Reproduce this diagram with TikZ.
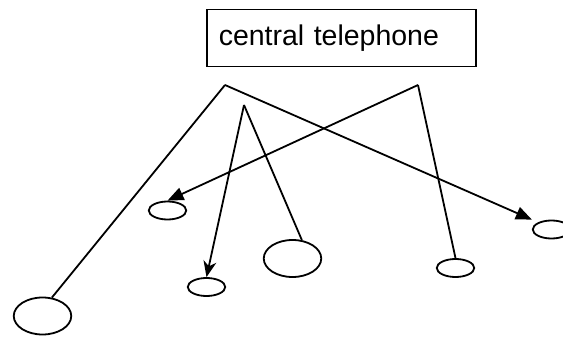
\documentclass[tikz,border=0pt]{standalone}
\usepackage{fontspec}
\setmainfont{Liberation Sans}
\usetikzlibrary{shapes.geometric,arrows.meta}

\begin{document}
\begin{tikzpicture}[x=1pt,y=-1pt,
  wire/.style={line width=1.8pt},
  link/.style={wire,-{Triangle[length=16pt,width=13pt]}},
  barb/.style={wire,-{Stealth[length=16pt,width=13pt,inset=5pt]}},
  phone/.style={ellipse,draw,line width=1.8pt,inner sep=0pt},
  small/.style={phone,minimum width=37.5pt,minimum height=18pt},
  large/.style={phone,minimum width=57.5pt,minimum height=37pt}]

\useasboundingbox (0,0) rectangle (563,337);

% exchange box
\node[draw,line width=1.5pt,anchor=north west,minimum width=269pt,minimum height=57pt,
      inner xsep=12pt,text width=245pt,align=left,font=\fontsize{28.5}{32}\selectfont]
  (central) at (206,9) {central telephone};

% branching points of the wires
\coordinate (A) at (225,85);
\coordinate (B) at (418,85);
\coordinate (C) at (244,105);

% telephones
\node[large] (p1) at (42.5,316) {};
\node[small] (p2) at (167.5,210.5) {};
\node[small] (p3) at (206.5,287) {};
\node[large] (p4) at (292.5,258.5) {};
\node[small] (p5) at (455.5,268) {};
\node[small] (p6) at (551.5,229.5) {};

% wires
\draw[wire] (p1.63) -- (A);
\draw[link] (A) -- (p6.west |- p6.north);
\draw[link] (B) -- (p2.north);
\draw[wire] (B) -- (p5.north);
\draw[barb] (C) -- (p3.north);
\draw[wire] (C) -- (p4.63);
\end{tikzpicture}
\end{document}
